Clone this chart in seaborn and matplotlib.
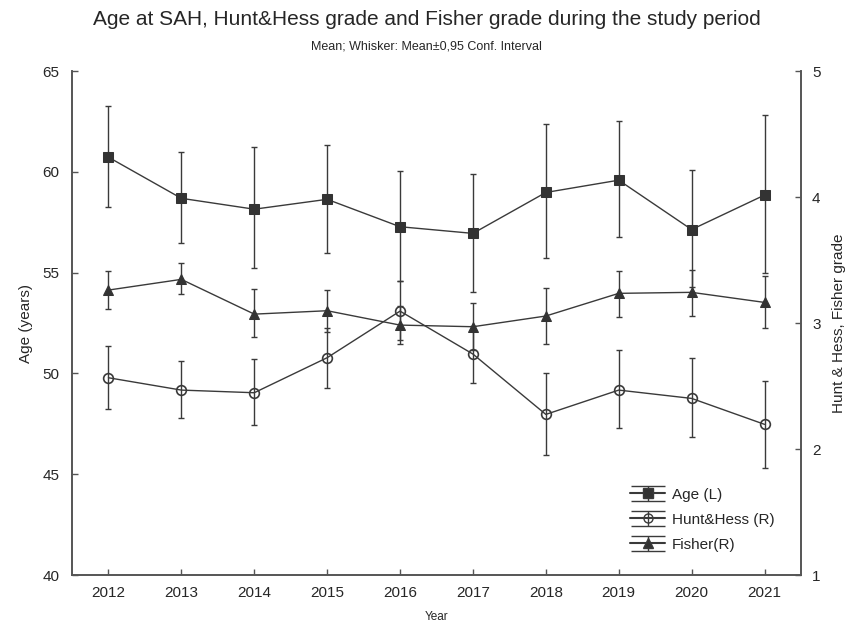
import numpy as np
import pandas as pd
import matplotlib
matplotlib.use("Agg")
import matplotlib.pyplot as plt
import seaborn as sns

# ---- data ----
years = [2012, 2013, 2014, 2015, 2016, 2017, 2018, 2019, 2020, 2021]

age_mean = [60.73, 58.69, 58.15, 58.64, 57.28, 56.95, 58.98, 59.59, 57.14, 58.85]
age_lo = [58.27, 56.48, 55.21, 55.96, 54.58, 54.05, 55.74, 56.78, 54.30, 55.00]
age_hi = [63.26, 61.00, 61.22, 61.35, 60.04, 59.89, 62.40, 62.52, 60.09, 62.82]

hh_mean = [2.566, 2.468, 2.447, 2.725, 3.095, 2.754, 2.275, 2.468, 2.402, 2.196]
hh_lo = [2.315, 2.249, 2.190, 2.487, 2.865, 2.521, 1.952, 2.164, 2.098, 1.847]
hh_hi = [2.820, 2.698, 2.712, 2.963, 3.333, 2.980, 2.601, 2.786, 2.720, 2.540]

fisher_mean = [3.262, 3.347, 3.071, 3.098, 2.984, 2.971, 3.056, 3.236, 3.244, 3.164]
fisher_lo = [3.109, 3.228, 2.886, 2.931, 2.831, 2.786, 2.831, 3.045, 3.058, 2.958]
fisher_hi = [3.415, 3.474, 3.267, 3.262, 3.137, 3.156, 3.280, 3.415, 3.421, 3.373]

labels = ["Age (L)", "Hunt&Hess (R)", "Fisher(R)"]

sns.set_theme(style="white")
plt.rcParams["font.family"] = ["Liberation Sans", "DejaVu Sans"]

INK = "#3a3a3a"
AXC = "#555555"
TXT = "#262626"

fig = plt.figure(figsize=(8.53, 6.24), dpi=100)
ax = fig.add_axes([0.0844, 0.0785, 0.8546, 0.8075])
ax2 = ax.twinx()

df = pd.DataFrame({"year": years, "age": age_mean, "hh": hh_mean, "fisher": fisher_mean})


def whiskers(axis, mean, lo, hi):
    mean = np.asarray(mean)
    yerr = [mean - np.asarray(lo), np.asarray(hi) - mean]
    axis.errorbar(years, mean, yerr=yerr, fmt="none", ecolor=INK,
                  elinewidth=1.0, capsize=2.2, capthick=1.0, zorder=2)


# age on left axis
whiskers(ax, age_mean, age_lo, age_hi)
sns.lineplot(data=df, x="year", y="age", ax=ax, color=INK, lw=1.0,
             marker="s", markersize=7.2, markerfacecolor="#333333",
             markeredgecolor="#333333", zorder=3)

# grades on right axis
whiskers(ax2, hh_mean, hh_lo, hh_hi)
whiskers(ax2, fisher_mean, fisher_lo, fisher_hi)
sns.lineplot(data=df, x="year", y="hh", ax=ax2, color=INK, lw=1.0,
             marker="o", markersize=7, markerfacecolor="none",
             markeredgecolor=INK, markeredgewidth=1.2, zorder=3)
sns.lineplot(data=df, x="year", y="fisher", ax=ax2, color=INK, lw=1.0,
             marker="^", markersize=6.5, markerfacecolor="#333333",
             markeredgecolor="#333333", zorder=3)

ax.set_xlim(2011.5, 2021.5)
ax.set_ylim(40, 65)
ax2.set_ylim(1, 5)
ax.set_xticks(years)
ax.set_xticklabels([str(y) for y in years])
ax.set_yticks([40, 45, 50, 55, 60, 65])
ax2.set_yticks([1, 2, 3, 4, 5])

ax.set_xlabel("Year", fontsize=8.5, color=TXT, labelpad=8)
ax.set_ylabel("Age (years)", fontsize=11, color=TXT, labelpad=7)
ax2.set_ylabel("Hunt & Hess, Fisher grade", fontsize=11, color=TXT, labelpad=8)

for a in (ax, ax2):
    a.spines["top"].set_visible(False)
    for s in ("left", "right", "bottom"):
        a.spines[s].set_color(AXC)
        a.spines[s].set_linewidth(1.2)
    a.tick_params(direction="in", length=4, width=1, color=AXC,
                  labelsize=11, labelcolor=TXT)
ax.tick_params(axis="y", pad=9)
ax2.tick_params(axis="y", pad=8)
ax.tick_params(axis="x", bottom=True, pad=8)
ax.spines["left"].set_bounds(40, 65)
ax2.spines["right"].set_bounds(1, 5)
ax.grid(False)
ax2.grid(False)

# legend with whisker-style handles
markers = [("s", "#333333"), ("o", "none"), ("^", "#333333")]
handles = []
for mk, fc in markers:
    h = ax2.errorbar([np.nan], [np.nan], yerr=[[1], [1]], fmt=mk, ls="-",
                     color=INK, mfc=fc, mec=INK, ms=6.5, elinewidth=1.0,
                     capsize=12, capthick=1.0)
    handles.append(h)
leg = ax2.legend(handles, labels, loc="lower left", bbox_to_anchor=(0.757, 0.034),
                 frameon=False, fontsize=11, handlelength=2.3, handletextpad=0.45,
                 labelspacing=0.72, borderaxespad=0)
for t in leg.get_texts():
    t.set_color(TXT)

fig.text(0.5, 0.968, "Age at SAH, Hunt&Hess grade and Fisher grade during the study period",
         ha="center", va="center", fontsize=15, color=TXT)
fig.text(0.5, 0.925, "Mean; Whisker: Mean\u00b10,95 Conf. Interval",
         ha="center", va="center", fontsize=9, color=TXT)

fig.savefig("out.png", dpi=100)
